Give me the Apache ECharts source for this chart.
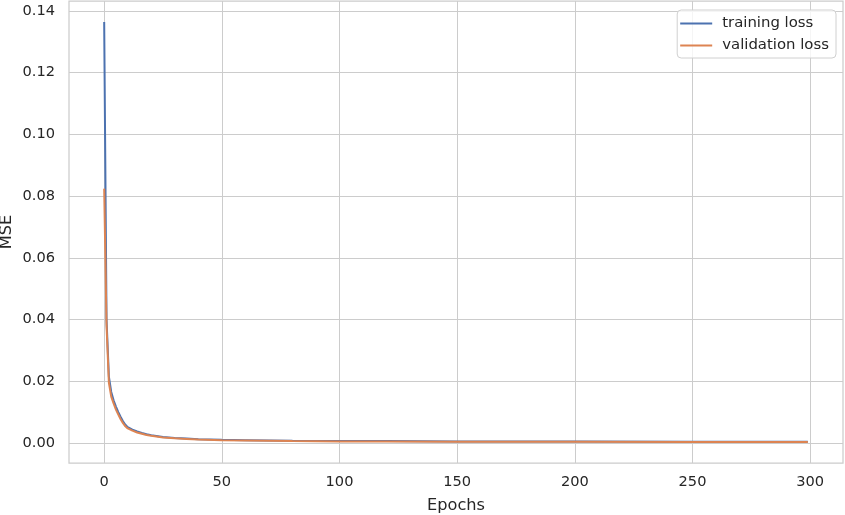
<!DOCTYPE html>
<html>
<head>
<meta charset="utf-8">
<script src="https://cdn.jsdelivr.net/npm/echarts@6/dist/echarts.min.js"></script>
<style>
  html, body { margin: 0; padding: 0; background: #fff; }
  #chart { width: 845px; height: 515px; }
</style>
</head>
<body>
<div id="chart"></div>
<script>
const epochs = [0, 1, 2, 3, 4, 5, 6, 7, 8, 9, 10, 12, 14, 16, 18, 20, 25, 30, 35, 40, 50, 60, 70, 80, 100, 120, 150, 200, 250, 299]
const trainingLoss = [0.1364, 0.040, 0.0215, 0.0165, 0.0138, 0.0118, 0.0100, 0.0084, 0.0070, 0.0059, 0.0051, 0.0043, 0.0037, 0.0032, 0.0028, 0.0025, 0.0019, 0.0016, 0.0014, 0.0012, 0.0010, 0.0009, 0.0008, 0.0007, 0.0006, 0.0006, 0.0005, 0.0005, 0.0004, 0.0004]
const validationLoss = [0.0824, 0.038, 0.0195, 0.0150, 0.0128, 0.0108, 0.0092, 0.0077, 0.0064, 0.0054, 0.0047, 0.0040, 0.0034, 0.0030, 0.0026, 0.0023, 0.0018, 0.0015, 0.0013, 0.0011, 0.0009, 0.0008, 0.0007, 0.0006, 0.0005, 0.0005, 0.0004, 0.0004, 0.0003, 0.0003]
const xTicks = [0, 50, 100, 150, 200, 250, 300]
const yTicks = [0, 0.02, 0.04, 0.06, 0.08, 0.10, 0.12, 0.14]

const pairs = (ys) => epochs.map((e, i) => [e, ys[i]])
const textColor = '#262626'
const gridColor = '#cccccc'

let chart = echarts.init(document.getElementById('chart'))
chart.setOption({
  animation: false,
  textStyle: { fontFamily: 'DejaVu Sans' },
  grid: {
    left: 69, right: 2, top: 1, bottom: 52,
    outerBoundsMode: 'none',
    containLabel: false,
    show: true,
    borderColor: gridColor,
    borderWidth: 1.25,
    backgroundColor: '#fff'
  },
  legend: {
    orient: 'vertical',
    right: 9,
    top: 10,
    padding: [5, 7, 4, 3],
    itemGap: 5,
    itemWidth: 32,
    itemHeight: 2,
    icon: 'rect',
    backgroundColor: 'rgba(255,255,255,0.8)',
    borderColor: '#d0d0d0',
    borderWidth: 1,
    borderRadius: 4,
    textStyle: { color: textColor, fontSize: 14.9, lineHeight: 17, padding: [0, 0, 0, 5], fontFamily: 'DejaVu Sans' },
    data: ['training loss', 'validation loss']
  },
  xAxis: {
    type: 'value',
    min: -14.95,
    max: 313.95,
    name: 'Epochs',
    nameLocation: 'middle',
    nameGap: 35,
    nameMoveOverlap: false,
    nameTextStyle: { color: textColor, fontSize: 16.2, fontFamily: 'DejaVu Sans' },
    axisLine: { show: false },
    axisTick: { show: false, customValues: xTicks },
    axisLabel: { customValues: xTicks, color: textColor, fontSize: 14.6, margin: 12 },
    splitLine: { show: true, lineStyle: { color: gridColor, width: 1 } }
  },
  yAxis: {
    type: 'value',
    min: -0.0065,
    max: 0.1432,
    name: 'MSE',
    nameLocation: 'middle',
    nameGap: 54,
    nameMoveOverlap: false,
    nameTextStyle: { color: textColor, fontSize: 16.2, fontFamily: 'DejaVu Sans' },
    axisLine: { show: false },
    axisTick: { show: false, customValues: yTicks },
    axisLabel: {
      customValues: yTicks,
      color: textColor,
      fontSize: 14.6,
      margin: 14,
      formatter: (v) => v.toFixed(2)
    },
    splitLine: { show: true, lineStyle: { color: gridColor, width: 1 } }
  },
  series: [
    {
      name: 'training loss',
      type: 'line',
      data: pairs(trainingLoss),
      showSymbol: false,
      symbol: 'none',
      lineStyle: { color: '#4c72b0', width: 2 },
      itemStyle: { color: '#4c72b0' }
    },
    {
      name: 'validation loss',
      type: 'line',
      data: pairs(validationLoss),
      showSymbol: false,
      symbol: 'none',
      lineStyle: { color: '#dd8452', width: 2 },
      itemStyle: { color: '#dd8452' }
    }
  ]
})
</script>
</body>
</html>
